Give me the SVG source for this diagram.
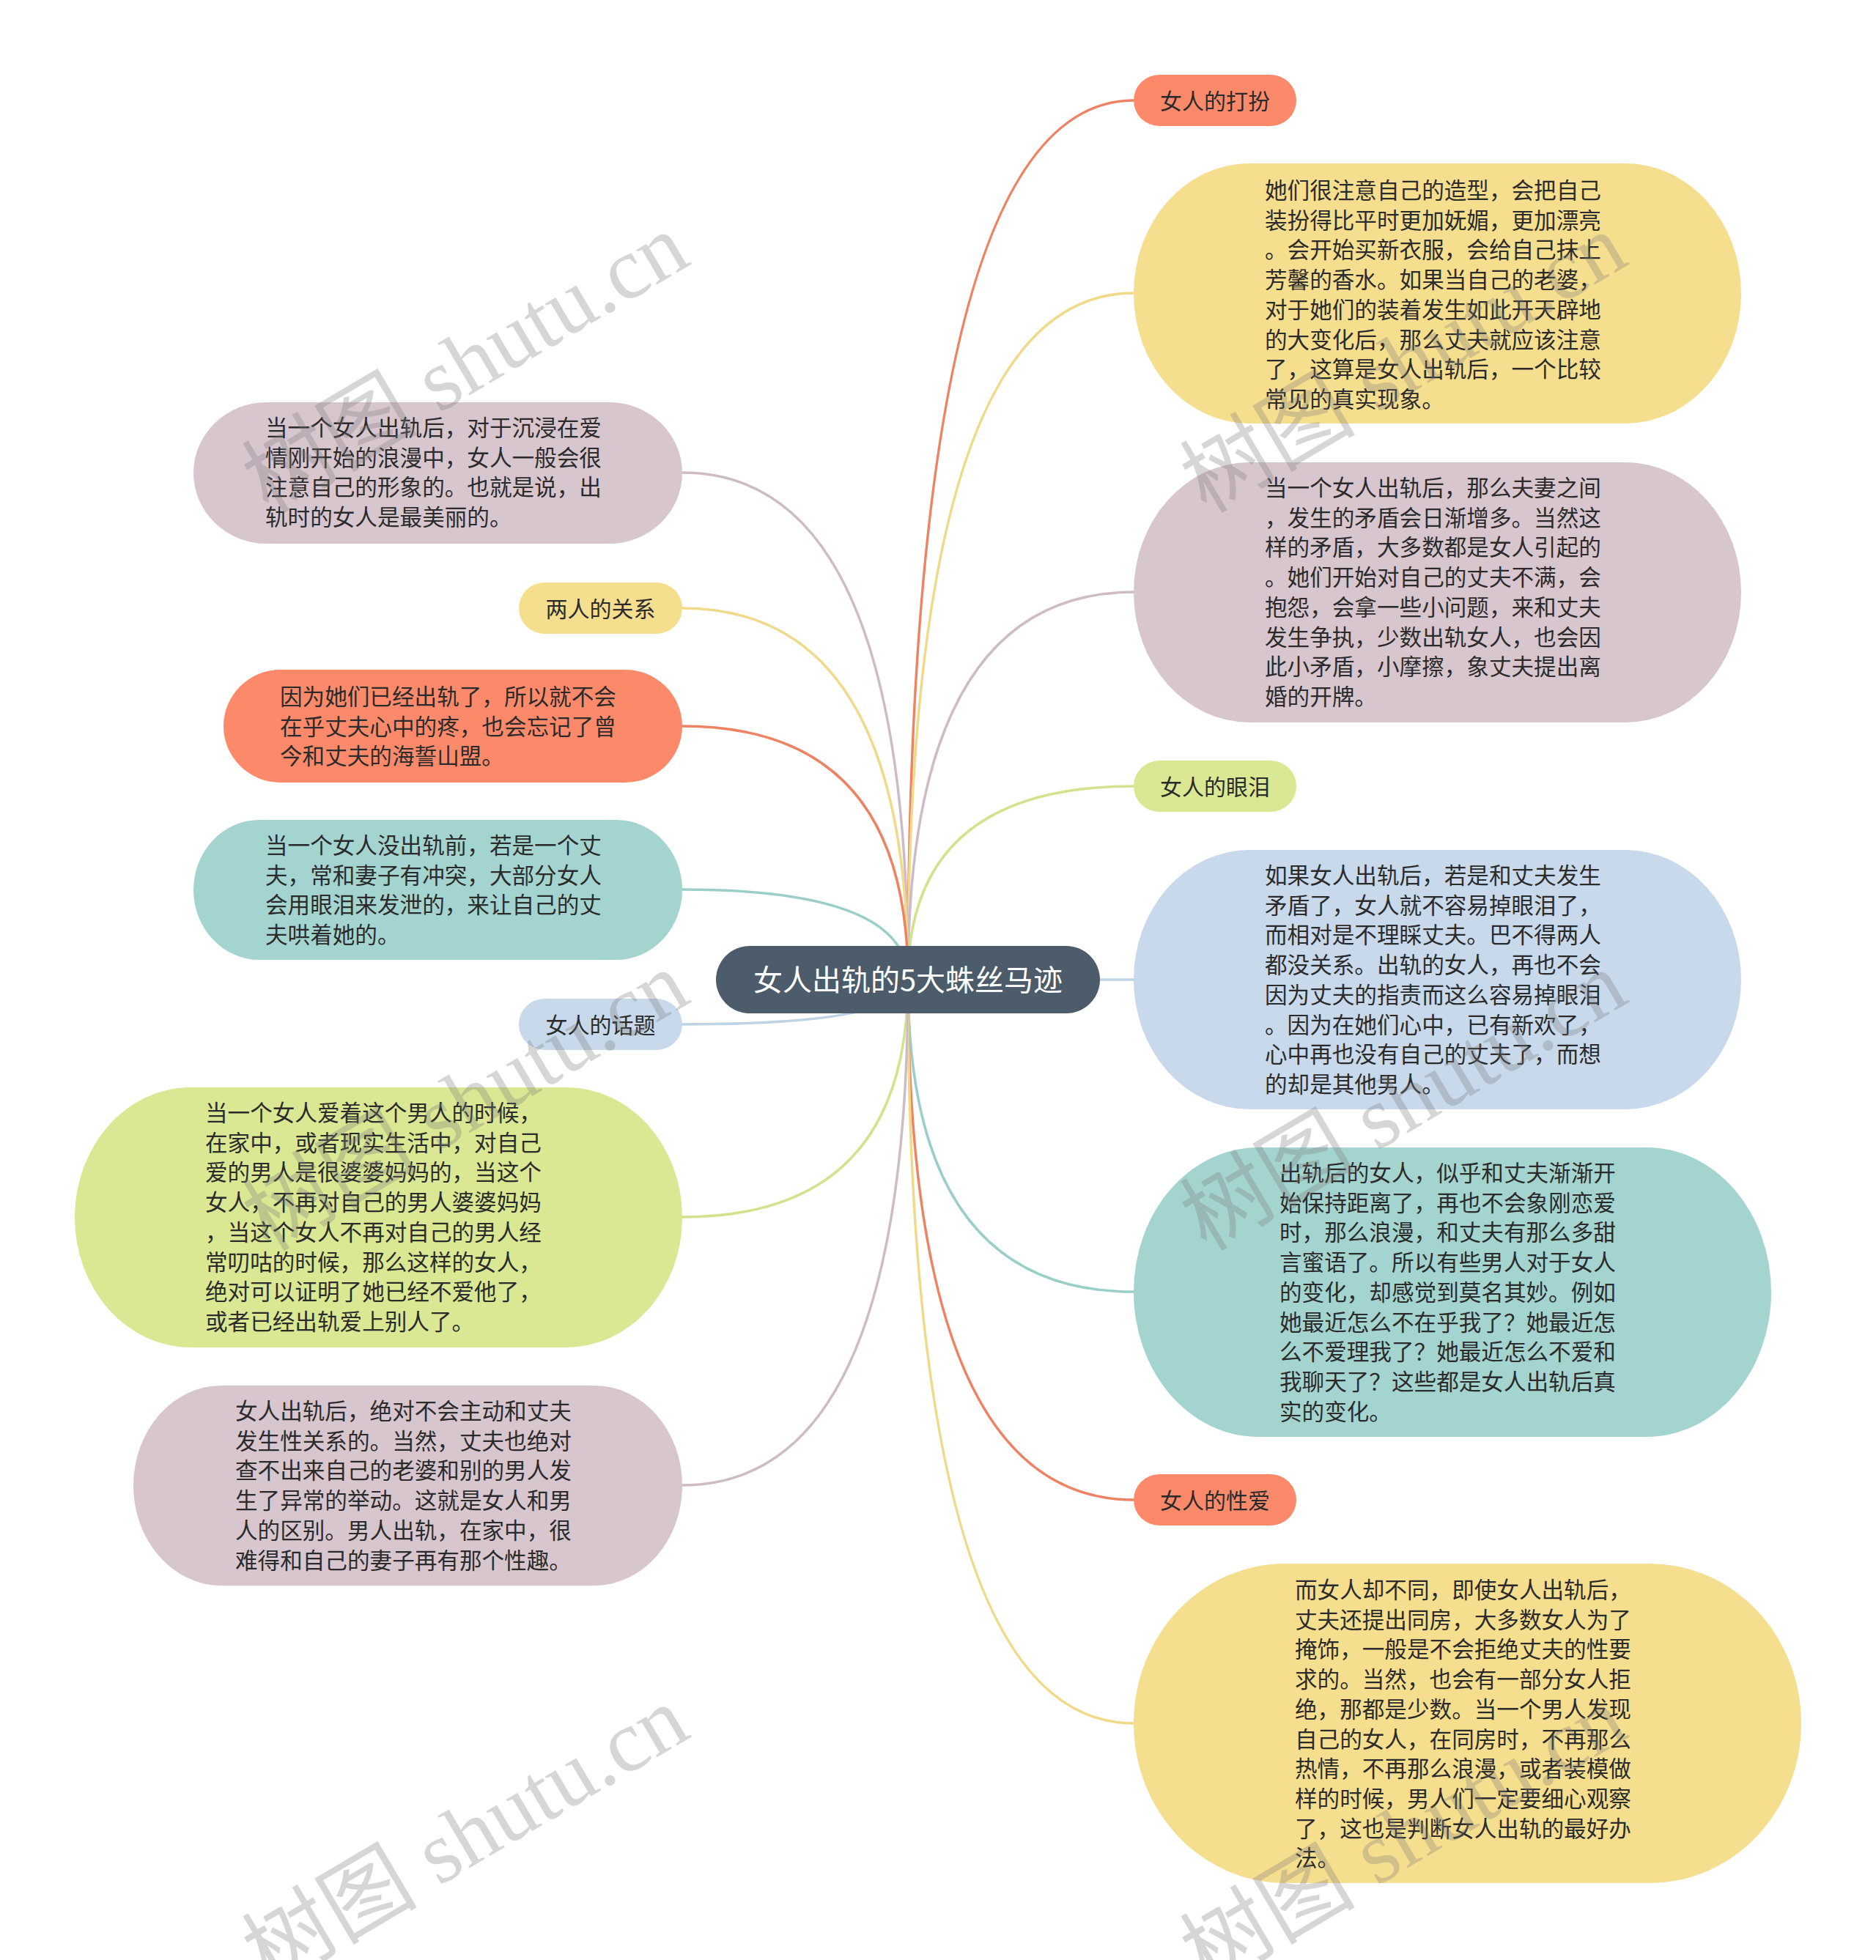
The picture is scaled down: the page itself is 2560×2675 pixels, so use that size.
<svg xmlns="http://www.w3.org/2000/svg" width="2560" height="2675" viewBox="0 0 2560 2675">
<style>
.t{font-family:"Noto Sans CJK SC","Noto Sans",sans-serif;font-size:30.6px;fill:#2b2b2b}
.p{font-family:"Noto Sans CJK SC","Noto Sans",sans-serif;font-size:30px;fill:#2b2b2b;text-anchor:middle}
.c{fill:none;stroke-width:3.5;stroke-linecap:round}
.wm{font-family:"Liberation Serif","Noto Sans CJK SC",serif;font-size:120px;fill:#7a7a7a;opacity:0.3}
.or{fill:#fc8a6a}.ye{fill:#f6de8f}.ma{fill:#d8c6cf}.gr{fill:#dae793}.bl{fill:#c7d9ea}.te{fill:#a4d4cf}
</style>
<rect width="2560" height="2675" fill="#ffffff"/>
<g id="connectors">
<path class="c" stroke="#ee8363" d="M1239 1337 Q1239 137 1547 137"/>
<path class="c" stroke="#f1d98a" d="M1239 1337 Q1239 400 1547 400"/>
<path class="c" stroke="#cdbcc5" d="M1239 1337 Q1239 808 1547 808"/>
<path class="c" stroke="#d4e28e" d="M1239 1337 Q1239 1073 1547 1073"/>
<path class="c" stroke="#bed3e6" d="M1239 1337 L1547 1337"/>
<path class="c" stroke="#9acfc9" d="M1239 1337 Q1239 1763 1547 1763"/>
<path class="c" stroke="#ee8363" d="M1239 1337 Q1239 2047 1547 2047"/>
<path class="c" stroke="#f1d98a" d="M1239 1337 Q1239 2352 1547 2352"/>
<path class="c" stroke="#cdbcc5" d="M1239 1337 Q1239 645 931 645"/>
<path class="c" stroke="#f1d98a" d="M1239 1337 Q1239 830 931 830"/>
<path class="c" stroke="#ee8363" d="M1239 1337 Q1239 991 931 991"/>
<path class="c" stroke="#9acfc9" d="M1239 1337 Q1239 1214 931 1214"/>
<path class="c" stroke="#bed3e6" d="M1239 1337 Q1239 1398 931 1398"/>
<path class="c" stroke="#d4e28e" d="M1239 1337 Q1239 1661 931 1661"/>
<path class="c" stroke="#cdbcc5" d="M1239 1337 Q1239 2027 931 2027"/>
</g>
<g id="center">
<rect x="977" y="1291" width="524" height="92" rx="46" fill="#4c5c6b"/>
<text x="1239" y="1352" font-family="Noto Sans CJK SC, Noto Sans, sans-serif" font-size="40" fill="#ffffff" text-anchor="middle">女人出轨的5大蛛丝马迹</text>
</g>
<g id="n-daban">
<rect class="or" x="1547" y="102" width="222" height="70" rx="35"/>
<text class="p" x="1658" y="148.5">女人的打扮</text>
</g>
<g id="n-daban-text">
<rect class="ye" x="1547" y="223" width="829" height="355" rx="158" ry="177.5"/>
<text class="t" x="1726" y="271"><tspan x="1726">她们很注意自己的造型，会把自己</tspan><tspan x="1726" dy="40.7">装扮得比平时更加妩媚，更加漂亮</tspan><tspan x="1726" dy="40.7">。会开始买新衣服，会给自己抹上</tspan><tspan x="1726" dy="40.7">芳馨的香水。如果当自己的老婆，</tspan><tspan x="1726" dy="40.7">对于她们的装着发生如此开天辟地</tspan><tspan x="1726" dy="40.7">的大变化后，那么丈夫就应该注意</tspan><tspan x="1726" dy="40.7">了，这算是女人出轨后，一个比较</tspan><tspan x="1726" dy="40.7">常见的真实现象。</tspan></text>
</g>
<g id="n-maodun">
<rect class="ma" x="1547" y="631" width="829" height="355" rx="158" ry="177.5"/>
<text class="t" x="1726" y="677"><tspan x="1726">当一个女人出轨后，那么夫妻之间</tspan><tspan x="1726" dy="40.7">，发生的矛盾会日渐增多。当然这</tspan><tspan x="1726" dy="40.7">样的矛盾，大多数都是女人引起的</tspan><tspan x="1726" dy="40.7">。她们开始对自己的丈夫不满，会</tspan><tspan x="1726" dy="40.7">抱怨，会拿一些小问题，来和丈夫</tspan><tspan x="1726" dy="40.7">发生争执，少数出轨女人，也会因</tspan><tspan x="1726" dy="40.7">此小矛盾，小摩擦，象丈夫提出离</tspan><tspan x="1726" dy="40.7">婚的开牌。</tspan></text>
</g>
<g id="n-yanlei">
<rect class="gr" x="1547" y="1038" width="222" height="70" rx="35"/>
<text class="p" x="1658" y="1084.5">女人的眼泪</text>
</g>
<g id="n-yanlei-text">
<rect class="bl" x="1547" y="1160" width="829" height="354" rx="158" ry="177"/>
<text class="t" x="1726" y="1206"><tspan x="1726">如果女人出轨后，若是和丈夫发生</tspan><tspan x="1726" dy="40.7">矛盾了，女人就不容易掉眼泪了，</tspan><tspan x="1726" dy="40.7">而相对是不理睬丈夫。巴不得两人</tspan><tspan x="1726" dy="40.7">都没关系。出轨的女人，再也不会</tspan><tspan x="1726" dy="40.7">因为丈夫的指责而这么容易掉眼泪</tspan><tspan x="1726" dy="40.7">。因为在她们心中，已有新欢了，</tspan><tspan x="1726" dy="40.7">心中再也没有自己的丈夫了，而想</tspan><tspan x="1726" dy="40.7">的却是其他男人。</tspan></text>
</g>
<g id="n-bianhua">
<rect class="te" x="1547" y="1566" width="870" height="395" rx="170" ry="197.5"/>
<text class="t" x="1746" y="1612"><tspan x="1746">出轨后的女人，似乎和丈夫渐渐开</tspan><tspan x="1746" dy="40.7">始保持距离了，再也不会象刚恋爱</tspan><tspan x="1746" dy="40.7">时，那么浪漫，和丈夫有那么多甜</tspan><tspan x="1746" dy="40.7">言蜜语了。所以有些男人对于女人</tspan><tspan x="1746" dy="40.7">的变化，却感觉到莫名其妙。例如</tspan><tspan x="1746" dy="40.7">她最近怎么不在乎我了？她最近怎</tspan><tspan x="1746" dy="40.7">么不爱理我了？她最近怎么不爱和</tspan><tspan x="1746" dy="40.7">我聊天了？这些都是女人出轨后真</tspan><tspan x="1746" dy="40.7">实的变化。</tspan></text>
</g>
<g id="n-xingai">
<rect class="or" x="1547" y="2012" width="222" height="70" rx="35"/>
<text class="p" x="1658" y="2058.5">女人的性爱</text>
</g>
<g id="n-xingai-text">
<rect class="ye" x="1547" y="2134" width="911" height="436" rx="207" ry="218"/>
<text class="t" x="1767" y="2181"><tspan x="1767">而女人却不同，即使女人出轨后，</tspan><tspan x="1767" dy="40.7">丈夫还提出同房，大多数女人为了</tspan><tspan x="1767" dy="40.7">掩饰，一般是不会拒绝丈夫的性要</tspan><tspan x="1767" dy="40.7">求的。当然，也会有一部分女人拒</tspan><tspan x="1767" dy="40.7">绝，那都是少数。当一个男人发现</tspan><tspan x="1767" dy="40.7">自己的女人，在同房时，不再那么</tspan><tspan x="1767" dy="40.7">热情，不再那么浪漫，或者装模做</tspan><tspan x="1767" dy="40.7">样的时候，男人们一定要细心观察</tspan><tspan x="1767" dy="40.7">了，这也是判断女人出轨的最好办</tspan><tspan x="1767" dy="40.7">法。</tspan></text>
</g>
<g id="n-meili">
<rect class="ma" x="264" y="549" width="667" height="193" rx="100" ry="96.5"/>
<text class="t" x="362" y="595"><tspan x="362">当一个女人出轨后，对于沉浸在爱</tspan><tspan x="362" dy="40.7">情刚开始的浪漫中，女人一般会很</tspan><tspan x="362" dy="40.7">注意自己的形象的。也就是说，出</tspan><tspan x="362" dy="40.7">轨时的女人是最美丽的。</tspan></text>
</g>
<g id="n-guanxi">
<rect class="ye" x="708" y="795" width="223" height="70" rx="35"/>
<text class="p" x="819.5" y="841.5">两人的关系</text>
</g>
<g id="n-guanxi-text">
<rect class="or" x="305" y="914" width="626" height="154" rx="78" ry="77"/>
<text class="t" x="382" y="962"><tspan x="382">因为她们已经出轨了，所以就不会</tspan><tspan x="382" dy="40.7">在乎丈夫心中的疼，也会忘记了曾</tspan><tspan x="382" dy="40.7">今和丈夫的海誓山盟。</tspan></text>
</g>
<g id="n-chongtu">
<rect class="te" x="264" y="1119" width="667" height="191" rx="90" ry="95.5"/>
<text class="t" x="362" y="1165"><tspan x="362">当一个女人没出轨前，若是一个丈</tspan><tspan x="362" dy="40.7">夫，常和妻子有冲突，大部分女人</tspan><tspan x="362" dy="40.7">会用眼泪来发泄的，来让自己的丈</tspan><tspan x="362" dy="40.7">夫哄着她的。</tspan></text>
</g>
<g id="n-huati">
<rect class="bl" x="708" y="1363" width="223" height="70" rx="35"/>
<text class="p" x="819.5" y="1409.5">女人的话题</text>
</g>
<g id="n-huati-text">
<rect class="gr" x="102" y="1484" width="829" height="355" rx="158" ry="177.5"/>
<text class="t" x="280" y="1530"><tspan x="280">当一个女人爱着这个男人的时候，</tspan><tspan x="280" dy="40.7">在家中，或者现实生活中，对自己</tspan><tspan x="280" dy="40.7">爱的男人是很婆婆妈妈的，当这个</tspan><tspan x="280" dy="40.7">女人，不再对自己的男人婆婆妈妈</tspan><tspan x="280" dy="40.7">，当这个女人不再对自己的男人经</tspan><tspan x="280" dy="40.7">常叨咕的时候，那么这样的女人，</tspan><tspan x="280" dy="40.7">绝对可以证明了她已经不爱他了，</tspan><tspan x="280" dy="40.7">或者已经出轨爱上别人了。</tspan></text>
</g>
<g id="n-xingqu">
<rect class="ma" x="182" y="1891" width="749" height="273" rx="120" ry="136.5"/>
<text class="t" x="321" y="1937"><tspan x="321">女人出轨后，绝对不会主动和丈夫</tspan><tspan x="321" dy="40.7">发生性关系的。当然，丈夫也绝对</tspan><tspan x="321" dy="40.7">查不出来自己的老婆和别的男人发</tspan><tspan x="321" dy="40.7">生了异常的举动。这就是女人和男</tspan><tspan x="321" dy="40.7">人的区别。男人出轨，在家中，很</tspan><tspan x="321" dy="40.7">难得和自己的妻子再有那个性趣。</tspan></text>
</g>
<g id="watermarks">
<text class="wm" x="366" y="702" transform="rotate(-30.6 366 702)">树图 shutu.cn</text>
<text class="wm" x="1646" y="702" transform="rotate(-30.6 1646 702)">树图 shutu.cn</text>
<text class="wm" x="366" y="1709" transform="rotate(-30.6 366 1709)">树图 shutu.cn</text>
<text class="wm" x="1646" y="1709" transform="rotate(-30.6 1646 1709)">树图 shutu.cn</text>
<text class="wm" x="366" y="2712" transform="rotate(-30.6 366 2712)">树图 shutu.cn</text>
<text class="wm" x="1646" y="2712" transform="rotate(-30.6 1646 2712)">树图 shutu.cn</text>
</g>
</svg>
